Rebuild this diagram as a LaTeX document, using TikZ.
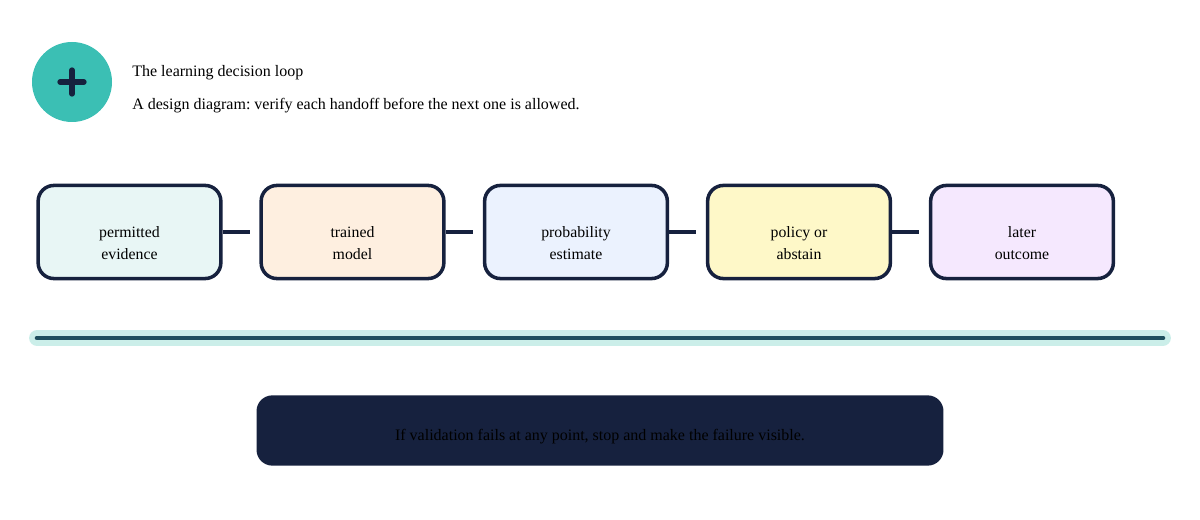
\documentclass[tikz,border=0pt]{standalone}
\usepackage{fontspec}
\setmainfont{Liberation Serif}
\usetikzlibrary{positioning}
\definecolor{navy}{HTML}{16213E}
\definecolor{teal}{HTML}{3BBFB4}
\definecolor{deepteal}{HTML}{1F4F5E}
\definecolor{glow}{HTML}{CBEEE9}
\definecolor{fa}{HTML}{E8F6F5}
\definecolor{fb}{HTML}{FEEFE0}
\definecolor{fc}{HTML}{EBF2FE}
\definecolor{fd}{HTML}{FEF8C8}
\definecolor{fe}{HTML}{F5E8FE}
\frenchspacing
\tikzset{
	stepbox/.style={draw=navy, line width=2pt, rounded corners=9pt, minimum width=104pt, minimum height=53pt},
	steptext/.style={align=center, yshift=-6.2pt, font=\fontsize{9}{12.5}\selectfont},
	link/.style={draw=navy, line width=2.3pt, shorten >=5.5pt}
}

\begin{document}
\begin{tikzpicture}[x=0.02cm, y=-0.02cm]
\useasboundingbox (0,0) rectangle (1200,520);
\fill[teal] (72,82) circle (40) coordinate (badge);
\draw[navy, line width=3pt, line cap=round] (60,82) -- (84,82) (72,70) -- (72,94);
\node[anchor=base west, inner sep=0pt, font=\fontsize{9.1}{10}\selectfont] (title) at (132,77) {The learning decision loop};
\node[anchor=base west, inner sep=0pt, font=\fontsize{9.1}{10}\selectfont] (sub) at (132,110) {A design diagram: verify each handoff before the next one is allowed.};
\foreach \i/\x/\c/\t in {1/129.5/fa/{permitted\\evidence}, 2/352.5/fb/{trained\\model}, 3/576/fc/{probability\\estimate}, 4/799/fd/{policy or\\abstain}, 5/1022/fe/{later\\outcome}} {
	\node[stepbox, fill=\c, label={[steptext]center:\t}] (b\i) at (\x,232) {};
}
\foreach \i [count=\j from 2] in {1,...,4} {
	\draw[link] (b\i) -- (b\j);
}
% track
\draw[glow, line width=9pt, line cap=round] (37,338) coordinate (ta) -- (1163,338) coordinate (tb);
\draw[deepteal, line width=2.6pt, line cap=round] (ta) -- (tb);
\node[fill=navy, rounded corners=9pt, minimum width=391pt, minimum height=40pt, label={[yshift=-3.4pt, font=\fontsize{9.1}{10}\selectfont]center:If validation fails at any point, stop and make the failure visible.}] (note) at (600,430.5) {};
\end{tikzpicture}
\end{document}
